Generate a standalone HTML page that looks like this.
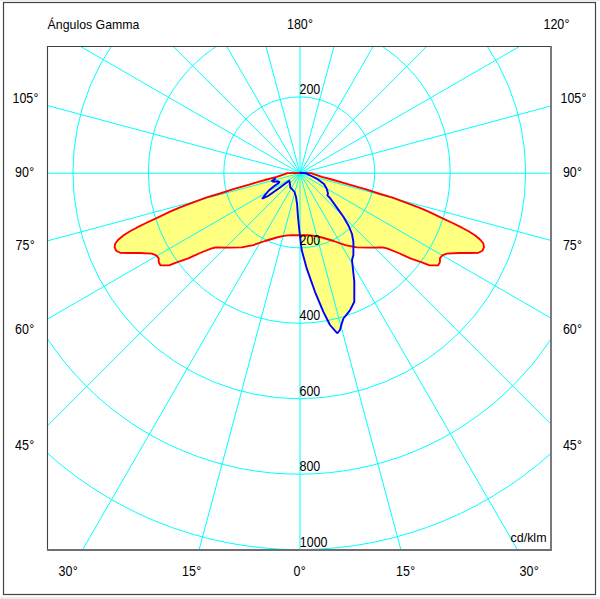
<!DOCTYPE html>
<html><head><meta charset="utf-8"><style>
html,body{margin:0;padding:0;background:#fff;width:600px;height:599px;overflow:hidden}
svg{display:block}
text{font-family:"Liberation Sans",sans-serif;font-size:13px;fill:#000}
</style></head><body>
<svg width="600" height="599" viewBox="0 0 600 599">
<defs><clipPath id="cb"><rect x="47.5" y="46.5" width="503.5" height="503.5"/></clipPath></defs>
<rect x="0" y="0" width="600" height="1" fill="#ececec"/>
<rect x="0" y="597" width="600" height="2" fill="#ececec"/>
<rect x="3.5" y="2.5" width="592" height="592" fill="#fff" stroke="#444" stroke-width="1.2"/>
<g clip-path="url(#cb)">
<polygon points="299.3,172.9 287.3,173.1 283.3,174.6 276.7,176.9 266.7,179.5 250.0,184.3 233.3,189.2 220.0,193.5 206.7,197.3 190.0,203.6 180.0,207.4 170.0,211.7 156.0,218.3 146.0,223.0 136.7,227.7 130.0,231.3 123.3,235.5 118.0,240.0 115.3,243.5 114.6,247.2 116.1,250.7 120.2,252.8 128.3,253.0 140.0,253.0 151.7,253.6 156.3,255.3 158.7,258.3 158.7,262.3 160.4,265.3 169.1,265.3 176.7,262.3 188.3,258.3 200.0,253.0 211.7,248.3 216.3,247.4 230.0,247.7 241.7,247.4 253.3,245.1 265.0,241.0 276.7,237.5 283.7,235.8 290.7,235.2 299.3,235.2 307.9,235.2 314.9,235.8 321.9,237.5 333.6,241.0 345.3,245.1 356.9,247.4 368.6,247.7 382.3,247.4 386.9,248.3 398.6,253.0 410.3,258.3 421.9,262.3 429.5,265.3 438.2,265.3 439.9,262.3 439.9,258.3 442.3,255.3 446.9,253.6 458.6,253.0 470.3,253.0 478.4,252.8 482.5,250.7 484.0,247.2 483.3,243.5 480.6,240.0 475.3,235.5 468.6,231.3 461.9,227.7 452.6,223.0 442.6,218.3 428.6,211.7 418.6,207.4 408.6,203.6 391.9,197.3 378.6,193.5 365.3,189.2 348.6,184.3 331.9,179.5 321.9,176.9 315.3,174.6 311.3,173.1 299.3,172.9" fill="#ffff80" stroke="none"/>
<polygon points="300.0,172.8 305.5,173.1 311.5,176.0 318.0,179.5 324.0,184.0 326.7,188.7 328.0,193.4 327.4,195.4 330.0,198.0 336.7,207.4 343.4,216.7 348.7,226.0 352.0,234.0 353.4,242.0 353.4,255.0 352.0,260.0 354.3,281.7 354.3,301.8 350.1,310.1 346.8,314.3 343.4,318.5 341.8,323.5 340.0,330.0 337.6,333.0 336.7,332.7 330.0,325.0 323.4,311.8 315.0,291.8 306.7,268.4 301.7,250.0 300.7,242.0 299.3,230.0 298.0,216.7 297.0,203.4 296.0,197.0 294.5,192.0 292.0,189.0 290.3,187.5 290.0,184.0 289.3,180.7 286.0,183.0 280.0,187.5 273.3,192.3 268.0,196.0 263.3,198.2 262.5,198.3 265.3,194.7 269.3,190.0 274.0,186.3 278.7,183.0 279.4,182.0 278.0,181.2 272.7,181.6 272.0,181.1 274.0,179.6 275.8,178.3" fill="#ffff80" stroke="none"/>
<g fill="none" stroke="#00ffff" stroke-width="1.0">
<circle cx="299.3" cy="172.4" r="75.45"/>
<circle cx="299.3" cy="172.4" r="150.90"/>
<circle cx="299.3" cy="172.4" r="226.35"/>
<circle cx="299.3" cy="172.4" r="301.80"/>
<circle cx="299.3" cy="172.4" r="377.25"/>
<line x1="300.00" y1="-826.80" x2="300.00" y2="1173.20"/>
<line x1="41.18" y1="-792.73" x2="558.82" y2="1139.13"/>
<line x1="-200.00" y1="-692.83" x2="800.00" y2="1039.23"/>
<line x1="-407.11" y1="-533.91" x2="1007.11" y2="880.31"/>
<line x1="-566.03" y1="-326.80" x2="1166.03" y2="673.20"/>
<line x1="-665.93" y1="-85.62" x2="1265.93" y2="432.02"/>
<line x1="-700.00" y1="173.20" x2="1300.00" y2="173.20"/>
<line x1="-665.93" y1="432.02" x2="1265.93" y2="-85.62"/>
<line x1="-566.03" y1="673.20" x2="1166.03" y2="-326.80"/>
<line x1="-407.11" y1="880.31" x2="1007.11" y2="-533.91"/>
<line x1="-200.00" y1="1039.23" x2="800.00" y2="-692.83"/>
<line x1="41.18" y1="1139.13" x2="558.82" y2="-792.73"/>
</g>
<polygon points="299.3,172.9 287.3,173.1 283.3,174.6 276.7,176.9 266.7,179.5 250.0,184.3 233.3,189.2 220.0,193.5 206.7,197.3 190.0,203.6 180.0,207.4 170.0,211.7 156.0,218.3 146.0,223.0 136.7,227.7 130.0,231.3 123.3,235.5 118.0,240.0 115.3,243.5 114.6,247.2 116.1,250.7 120.2,252.8 128.3,253.0 140.0,253.0 151.7,253.6 156.3,255.3 158.7,258.3 158.7,262.3 160.4,265.3 169.1,265.3 176.7,262.3 188.3,258.3 200.0,253.0 211.7,248.3 216.3,247.4 230.0,247.7 241.7,247.4 253.3,245.1 265.0,241.0 276.7,237.5 283.7,235.8 290.7,235.2 299.3,235.2 307.9,235.2 314.9,235.8 321.9,237.5 333.6,241.0 345.3,245.1 356.9,247.4 368.6,247.7 382.3,247.4 386.9,248.3 398.6,253.0 410.3,258.3 421.9,262.3 429.5,265.3 438.2,265.3 439.9,262.3 439.9,258.3 442.3,255.3 446.9,253.6 458.6,253.0 470.3,253.0 478.4,252.8 482.5,250.7 484.0,247.2 483.3,243.5 480.6,240.0 475.3,235.5 468.6,231.3 461.9,227.7 452.6,223.0 442.6,218.3 428.6,211.7 418.6,207.4 408.6,203.6 391.9,197.3 378.6,193.5 365.3,189.2 348.6,184.3 331.9,179.5 321.9,176.9 315.3,174.6 311.3,173.1 299.3,172.9" fill="none" stroke="#ff0000" stroke-width="1.85" stroke-linejoin="round"/>
<polyline points="300.0,172.8 305.5,173.1 311.5,176.0 318.0,179.5 324.0,184.0 326.7,188.7 328.0,193.4 327.4,195.4 330.0,198.0 336.7,207.4 343.4,216.7 348.7,226.0 352.0,234.0 353.4,242.0 353.4,255.0 352.0,260.0 354.3,281.7 354.3,301.8 350.1,310.1 346.8,314.3 343.4,318.5 341.8,323.5 340.0,330.0 337.6,333.0 336.7,332.7 330.0,325.0 323.4,311.8 315.0,291.8 306.7,268.4 301.7,250.0 300.7,242.0 299.3,230.0 298.0,216.7 297.0,203.4 296.0,197.0 294.5,192.0 292.0,189.0 290.3,187.5 290.0,184.0 289.3,180.7 286.0,183.0 280.0,187.5 273.3,192.3 268.0,196.0 263.3,198.2 262.5,198.3 265.3,194.7 269.3,190.0 274.0,186.3 278.7,183.0 279.4,182.0 278.0,181.2 272.7,181.6 272.0,181.1 274.0,179.6 275.8,178.3" fill="none" stroke="#0000ff" stroke-width="1.9" stroke-linejoin="round"/>

</g>
<text transform="translate(47.6,28.8) scale(0.95,1.0)">Ángulos Gamma</text>
<text transform="translate(287,28.5) scale(0.96,1.08)">180<tspan dx="0.3">°</tspan></text>
<text transform="translate(543.5,28.5) scale(0.96,1.08)">120<tspan dx="0.3">°</tspan></text>
<text transform="translate(12.5,103) scale(0.96,1.08)">105<tspan dx="0.3">°</tspan></text>
<text transform="translate(15,177) scale(0.96,1.08)">90<tspan dx="0.3">°</tspan></text>
<text transform="translate(15.5,250) scale(0.96,1.08)">75<tspan dx="0.3">°</tspan></text>
<text transform="translate(15,334) scale(0.96,1.08)">60<tspan dx="0.3">°</tspan></text>
<text transform="translate(15,450) scale(0.96,1.08)">45<tspan dx="0.3">°</tspan></text>
<text transform="translate(560.5,103) scale(0.96,1.08)">105<tspan dx="0.3">°</tspan></text>
<text transform="translate(562.9,177) scale(0.96,1.08)">90<tspan dx="0.3">°</tspan></text>
<text transform="translate(562.9,250) scale(0.96,1.08)">75<tspan dx="0.3">°</tspan></text>
<text transform="translate(562.9,334) scale(0.96,1.08)">60<tspan dx="0.3">°</tspan></text>
<text transform="translate(562.9,449.8) scale(0.96,1.08)">45<tspan dx="0.3">°</tspan></text>
<text transform="translate(58.5,576) scale(0.96,1.08)">30<tspan dx="0.3">°</tspan></text>
<text transform="translate(182,576) scale(0.96,1.08)">15<tspan dx="0.3">°</tspan></text>
<text transform="translate(293.5,576) scale(0.96,1.08)">0<tspan dx="0.3">°</tspan></text>
<text transform="translate(396,576) scale(0.96,1.08)">15<tspan dx="0.3">°</tspan></text>
<text transform="translate(519.5,576) scale(0.96,1.08)">30<tspan dx="0.3">°</tspan></text>
<text transform="translate(299.5,93.7) scale(0.96,1.08)">200</text>
<text transform="translate(299.5,244.5) scale(0.96,1.08)">200</text>
<text transform="translate(299.5,319.7) scale(0.96,1.08)">400</text>
<text transform="translate(299.5,395.5) scale(0.96,1.08)">600</text>
<text transform="translate(299.5,471) scale(0.96,1.08)">800</text>
<text transform="translate(299.8,546.5) scale(0.96,1.08)">1000</text>
<text transform="translate(510.5,542) scale(0.96,1.0)">cd/klm</text>
<path d="M47.5,550 V46.5 H551" fill="none" stroke="#404040" stroke-width="1.1"/>
<path d="M47,550 H551 V46" fill="none" stroke="#707070" stroke-width="1.85"/>
</svg>
</body></html>
